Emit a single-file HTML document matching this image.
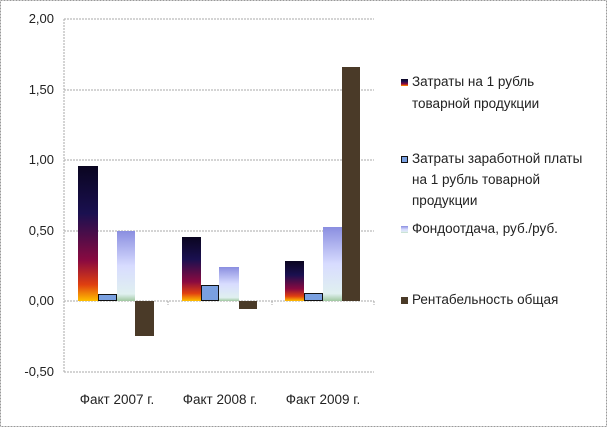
<!DOCTYPE html><html><head><meta charset="utf-8"><style>
body{margin:0;background:#fff}
svg{display:block;font-family:"Liberation Sans",sans-serif}
</style></head><body>
<svg width="607" height="427" viewBox="0 0 607 427">
<defs>
<linearGradient id="g1" x1="0" y1="0" x2="0" y2="1"><stop offset="0" stop-color="#0a0520"/><stop offset="0.35" stop-color="#1a1050"/><stop offset="0.7" stop-color="#8a0a40"/><stop offset="0.88" stop-color="#e04010"/><stop offset="1" stop-color="#ffc000"/></linearGradient>
<linearGradient id="g3" x1="0" y1="0" x2="0" y2="1"><stop offset="0" stop-color="#8a8ee0"/><stop offset="0.5" stop-color="#d8dcff"/><stop offset="0.9" stop-color="#e0f0f0"/><stop offset="1" stop-color="#a0c8a0"/></linearGradient>
</defs>
<rect x="0.5" y="0.5" width="606" height="426" fill="#fff" stroke="#999" stroke-dasharray="2,1"/>
<g stroke="#aaa" stroke-dasharray="2,1">
<line x1="64" y1="19" x2="374" y2="19"/><line x1="64" y1="90" x2="374" y2="90"/><line x1="64" y1="160" x2="374" y2="160"/><line x1="64" y1="231" x2="374" y2="231"/><line x1="64" y1="372" x2="374" y2="372"/>
<line x1="64" y1="19" x2="64" y2="372"/><line x1="64" y1="301" x2="374" y2="301"/>
<line x1="168" y1="301" x2="168" y2="305"/><line x1="272" y1="301" x2="272" y2="305"/><line x1="374" y1="301" x2="374" y2="305"/>
</g>
<g font-size="13" fill="#222" text-anchor="end">
<text x="54" y="23">2,00</text><text x="54" y="94">1,50</text><text x="54" y="164">1,00</text><text x="54" y="235">0,50</text><text x="54" y="305">0,00</text><text x="54" y="376">-0,50</text>
</g>
<g font-size="13.5" fill="#222" text-anchor="middle">
<text x="117" y="404">Факт 2007 г.</text><text x="220" y="404">Факт 2008 г.</text><text x="323" y="404">Факт 2009 г.</text>
</g>
<g>
<rect x="78" y="166" width="20" height="135" fill="url(#g1)"/>
<rect x="98.5" y="294.5" width="18" height="6" fill="#7aa0e0" stroke="#111"/>
<rect x="117" y="231" width="18" height="70" fill="url(#g3)"/>
<rect x="135" y="301" width="19" height="35" fill="#4a3a28"/>
<rect x="182" y="237" width="19" height="64" fill="url(#g1)"/>
<rect x="201.5" y="285.5" width="17" height="15" fill="#7aa0e0" stroke="#111"/>
<rect x="219" y="267" width="20" height="34" fill="url(#g3)"/>
<rect x="239" y="301" width="18" height="8" fill="#4a3a28"/>
<rect x="285" y="261" width="19" height="40" fill="url(#g1)"/>
<rect x="304.5" y="293.5" width="18" height="7" fill="#7aa0e0" stroke="#111"/>
<rect x="323" y="227" width="19" height="74" fill="url(#g3)"/>
<rect x="342" y="67" width="18" height="234" fill="#4a3a28"/>
</g>
<g font-size="13.5" fill="#222">
<rect x="401" y="79" width="7" height="7" fill="url(#g1)"/>
<text x="412" y="86">Затраты на 1 рубль</text><text x="412" y="108">товарной продукции</text>
<rect x="401.5" y="156.5" width="6" height="6" fill="#7aa0e0" stroke="#111"/>
<text x="412" y="163">Затраты заработной платы</text><text x="412" y="184">на 1 рубль товарной</text><text x="412" y="205">продукции</text>
<rect x="401" y="226" width="7" height="7" fill="url(#g3)"/>
<text x="412" y="233">Фондоотдача, руб./руб.</text>
<rect x="401" y="297" width="7" height="7" fill="#4a3a28"/>
<text x="412" y="304">Рентабельность общая</text>
</g>
</svg>
</body></html>
